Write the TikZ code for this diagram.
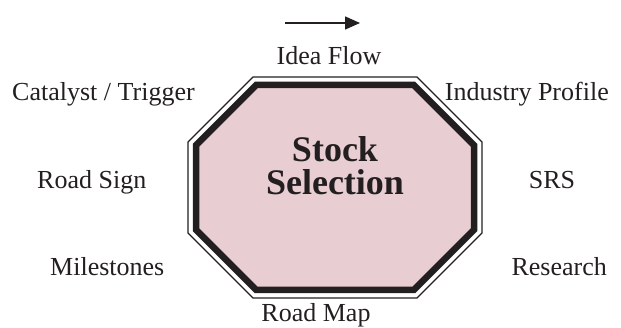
\documentclass[tikz,border=0pt]{standalone}
\usepackage{fontspec}
\setmainfont{Liberation Serif}
\usetikzlibrary{arrows.meta}
\definecolor{ink}{HTML}{231F20}
\definecolor{stoppink}{HTML}{E8CDD3}
\tikzset{
  lbl/.style={font=\fontsize{26}{30}\selectfont, text=ink, inner sep=0pt, anchor=base},
  title/.style={font=\fontsize{36}{33}\selectfont\bfseries, text=ink, inner sep=0pt, align=center},
  outerrim/.style={draw=ink, line width=1.3pt, fill=white},
  band/.style={draw=ink, line width=6.5pt, fill=stoppink, line join=miter},
  flow/.style={draw=ink, line width=1.5pt, -{Triangle[length=15pt,width=13pt]}}
}
\begin{document}
\begin{tikzpicture}[x=1pt,y=-1pt]
\useasboundingbox (0,0) rectangle (621,328);
% octagon rim
\path[outerrim] (253,77) -- (417,77) -- (482,142) -- (482,233) -- (417,298) -- (253,298) -- (188,233) -- (188,142) -- cycle;
\path[band] (256.3,85) -- (413.7,85) -- (474,145.3) -- (474,229.7) -- (413.7,290) -- (256.3,290) -- (196,229.7) -- (196,145.3) -- cycle;
\node[title] (center) at (335,166) {Stock\\Selection};
% arrow
\coordinate (fa) at (285,23);
\coordinate (fb) at (360,23);
\draw[flow] (fa) -- (fb);
% labels
\node[lbl] (idea) at (329,65) {Idea Flow};
\node[lbl] (roadmap) at (316,322) {Road Map};
\node[lbl, anchor=base west] (catalyst) at (12,101) {Catalyst / Trigger};
\node[lbl, anchor=base east] (industry) at (609,101) {Industry Profile};
\node[lbl, anchor=base west] (roadsign) at (37,189) {Road Sign};
\node[lbl] (srs) at (552,189) {SRS};
\node[lbl, anchor=base west] (milestones) at (50,276) {Milestones};
\node[lbl, anchor=base east] (research) at (607,276) {Research};
\end{tikzpicture}
\end{document}
